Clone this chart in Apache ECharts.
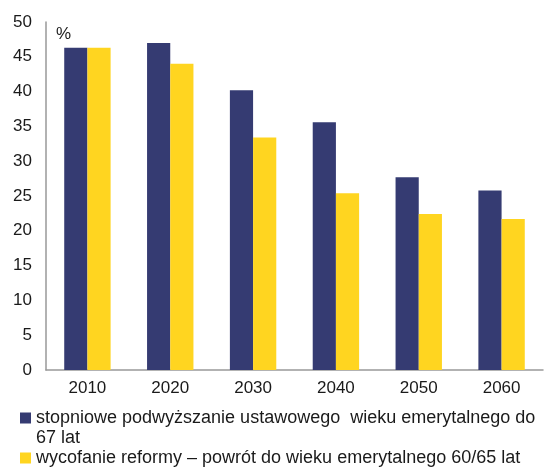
<!DOCTYPE html>
<html>
<head>
<meta charset="utf-8">
<script src="https://cdn.jsdelivr.net/npm/echarts@6/dist/echarts.min.js"></script>
<style>
  html, body { margin: 0; padding: 0; background: #fff; }
  #chart { width: 544px; height: 471px; }
</style>
</head>
<body>
<div id="chart"></div>
<script>
const categories = ['2010', '2020', '2030', '2040', '2050', '2060']
const seriesNames = [
  'stopniowe podwyższanie ustawowego  wieku emerytalnego do 67 lat',
  'wycofanie reformy – powrót do wieku emerytalnego 60/65 lat'
]
const gradualRaise = [46.3, 47.0, 40.2, 35.6, 27.7, 25.8]
const reformWithdrawal = [46.3, 44.0, 33.4, 25.4, 22.4, 21.7]

const textFont = 'Liberation Sans, Arial, sans-serif'

const chart = echarts.init(document.getElementById('chart'))

chart.setOption({
  animation: false,
  grid: {
    left: 46,
    right: 1,
    top: 22,
    bottom: 101
  },
  legend: {
    orient: 'vertical',
    left: 20,
    top: 388,
    padding: 0,
    itemWidth: 11,
    itemHeight: 11,
    itemGap: 0,
    icon: 'rect',
    textStyle: {
      fontFamily: textFont,
      fontSize: 18,
      color: '#1a1a1a',
      lineHeight: 20
    },
    // first entry wraps: a blank leading line keeps the marker on line one
    formatter: (name) => name === seriesNames[0]
      ? ' \nstopniowe podwyższanie ustawowego  wieku emerytalnego do\n67 lat'
      : name,
    data: seriesNames
  },
  xAxis: {
    type: 'category',
    data: categories,
    axisLine: { lineStyle: { color: '#999', width: 1.5 } },
    axisTick: { show: false },
    axisLabel: {
      margin: 10,
      fontFamily: textFont,
      fontSize: 17,
      color: '#1a1a1a'
    }
  },
  yAxis: {
    type: 'value',
    min: 0,
    max: 50,
    interval: 5,
    name: '%',
    nameLocation: 'end',
    nameGap: -4,
    nameTextStyle: {
      fontFamily: textFont,
      fontSize: 17,
      color: '#1a1a1a',
      align: 'left',
      verticalAlign: 'top',
      padding: [0, 0, 0, 10]
    },
    axisLine: { show: true, lineStyle: { color: '#999', width: 1.5 } },
    axisTick: { show: false },
    splitLine: { show: false },
    axisLabel: {
      margin: 14,
      fontFamily: textFont,
      fontSize: 17,
      color: '#1a1a1a'
    }
  },
  series: [
    {
      name: seriesNames[0],
      type: 'bar',
      data: gradualRaise,
      barGap: '0%',
      barCategoryGap: '44%',
      itemStyle: { color: '#353b72' }
    },
    {
      name: seriesNames[1],
      type: 'bar',
      data: reformWithdrawal,
      itemStyle: { color: '#ffd520' }
    }
  ]
})
</script>
</body>
</html>
